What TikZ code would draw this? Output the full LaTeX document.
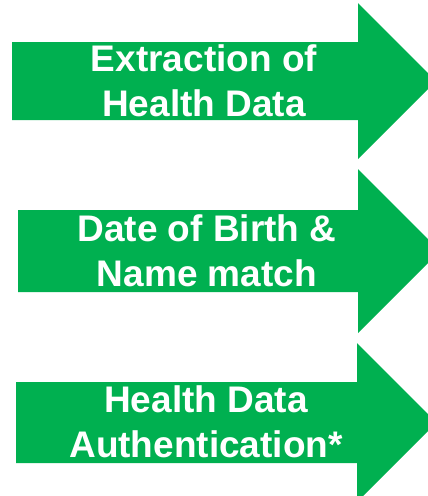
\documentclass[tikz,border=0pt]{standalone}
\usepackage{fontspec}
\setmainfont{Liberation Sans}
\definecolor{arrowgreen}{HTML}{00B050}
\begin{document}
\begin{tikzpicture}[x=1pt,y=-1pt,
  arrowbody/.style={fill=arrowgreen,draw=none},
  arrowlabel/.style={text=white,font=\bfseries\fontsize{37}{45}\selectfont,align=center,inner sep=0pt}]
\useasboundingbox (0,0) rectangle (428,496);
\clip (0,0) rectangle (428,496);
\fill[arrowbody] (12,42) -- (358,42) -- (358,3) -- (436,81) -- (358,159) -- (358,120) -- (12,120) -- cycle;
\fill[arrowbody] (18,210) -- (358,210) -- (358,169) -- (440,251) -- (358,333) -- (358,292) -- (18,292) -- cycle;
\fill[arrowbody] (16,382) -- (357,382) -- (357,343) -- (436.5,422.5) -- (357,502) -- (357,463) -- (16,463) -- cycle;
\node[arrowlabel] (t1) at (204,81) {Extraction of\\Health Data};
\node[arrowlabel] (t2) at (207,251) {Date of Birth \&\\Name match};
\node[arrowlabel] (t3) at (206,422) {Health Data\\Authentication*};
\end{tikzpicture}
\end{document}
